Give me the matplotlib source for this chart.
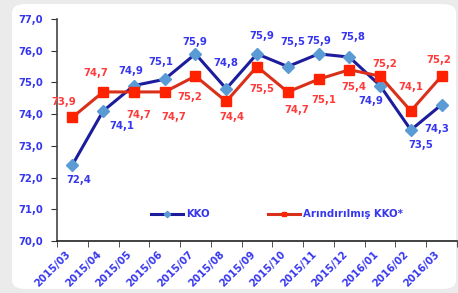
import matplotlib.pyplot as plt
import matplotlib.transforms as mtransforms
from matplotlib.patches import FancyBboxPatch

months = ["2015/03", "2015/04", "2015/05", "2015/06", "2015/07", "2015/08", "2015/09",
          "2015/10", "2015/11", "2015/12", "2016/01", "2016/02", "2016/03"]
kko = [72.4, 74.1, 74.9, 75.1, 75.9, 74.8, 75.9, 75.5, 75.9, 75.8, 74.9, 73.5, 74.3]
adj = [73.9, 74.7, 74.7, 74.7, 75.2, 74.4, 75.5, 74.7, 75.1, 75.4, 75.2, 74.1, 75.2]

# label offsets in pixels (dx, dy up)
kko_off = [(6, -15), (19, -15), (-3, 15), (-4, 17), (-1, 12), (0, 26), (5, 18),
           (5, 25), (0, 13), (4, 20), (-9, -15), (10, -15), (-5, -24)]
adj_off = [(-9, 15), (-7, 19), (5, -23), (9, -25), (-6, -21), (6, -16), (5, -22),
           (9, -18), (5, -21), (5, -17), (5, 12), (0, 24), (-3, 16)]

plt.rcParams['font.family'] = ['DejaVu Sans']
blue_txt = '#3636f0'
red_txt = '#ff3a3a'
fs = 7.3

fig = plt.figure(figsize=(4.58, 2.93), dpi=100)
fig.patch.set_facecolor('#ebebeb')
panel = FancyBboxPatch((12 / 458, 4 / 293), 444 / 458, 285 / 293,
                       boxstyle="round,pad=0,rounding_size=0.03",
                       transform=fig.transFigure, facecolor='white', edgecolor='none',
                       zorder=-10)
fig.add_artist(panel)

ax = fig.add_axes([57 / 458, 52 / 293, 400 / 458, 222 / 293])
ax.set_facecolor('none')
x = range(len(months))

ax.plot(x, kko, color='#1c1c9c', lw=2.2, marker='D', ms=6.5, mfc='#5b9bd5',
        mec='#5b9bd5', label='KKO', zorder=3)
ax.plot(x, adj, color='#d9301c', lw=2.2, marker='s', ms=6.5, mfc='#ff2200',
        mec='#ff2200', label='Arındırılmış KKO*', zorder=3)

for i in x:
    bb = None
    if i == 12:
        bb = dict(boxstyle='square,pad=0.15', fc='white', ec='none')
    ax.annotate(f"{kko[i]:.1f}".replace('.', ','), (i, kko[i]), xytext=kko_off[i],
                textcoords='offset pixels', ha='center', va='center', fontsize=fs,
                fontweight='bold', color=blue_txt, bbox=bb, zorder=4)
    ax.annotate(f"{adj[i]:.1f}".replace('.', ','), (i, adj[i]), xytext=adj_off[i],
                textcoords='offset pixels', ha='center', va='center', fontsize=fs,
                fontweight='bold', color=red_txt, zorder=4)

ax.set_xlim(-0.5, len(months) - 0.5)
ax.set_ylim(70, 77)
ax.set_yticks(range(70, 78))
ax.set_yticklabels([f"{v},0" for v in range(70, 78)], color=blue_txt,
                   fontsize=fs, fontweight='bold')
ax.set_xticks(list(x))
ax.set_xticklabels(months, rotation=45, ha='right', va='top',
                   color=blue_txt, fontsize=fs, fontweight='bold')
shift = mtransforms.ScaledTranslation(-6 / 100, 0, fig.dpi_scale_trans)
for lab in ax.get_xticklabels():
    lab.set_transform(lab.get_transform() + shift)
ax.set_xticks([i - 0.5 for i in range(len(months) + 1)], minor=True)
ax.tick_params(axis='x', which='major', length=0, pad=6)
ax.tick_params(axis='x', which='minor', length=4, color='#333333')
ax.tick_params(axis='y', length=4, color='#333333', pad=6)

for s in ['top', 'right']:
    ax.spines[s].set_visible(False)
ax.spines['left'].set_color('#444444')
ax.spines['bottom'].set_color('#222222')
ax.spines['left'].set_linewidth(1.2)
ax.spines['bottom'].set_linewidth(1.2)

leg = ax.legend(loc='center', bbox_to_anchor=(0.55, 0.12), ncol=2, frameon=False,
                columnspacing=5.7, handlelength=3.2, markerscale=0.5,
                handletextpad=0.3, prop={'weight': 'bold', 'size': fs})
for t in leg.get_texts():
    t.set_color(blue_txt)

fig.savefig('out.png', dpi=100, facecolor=fig.get_facecolor())
